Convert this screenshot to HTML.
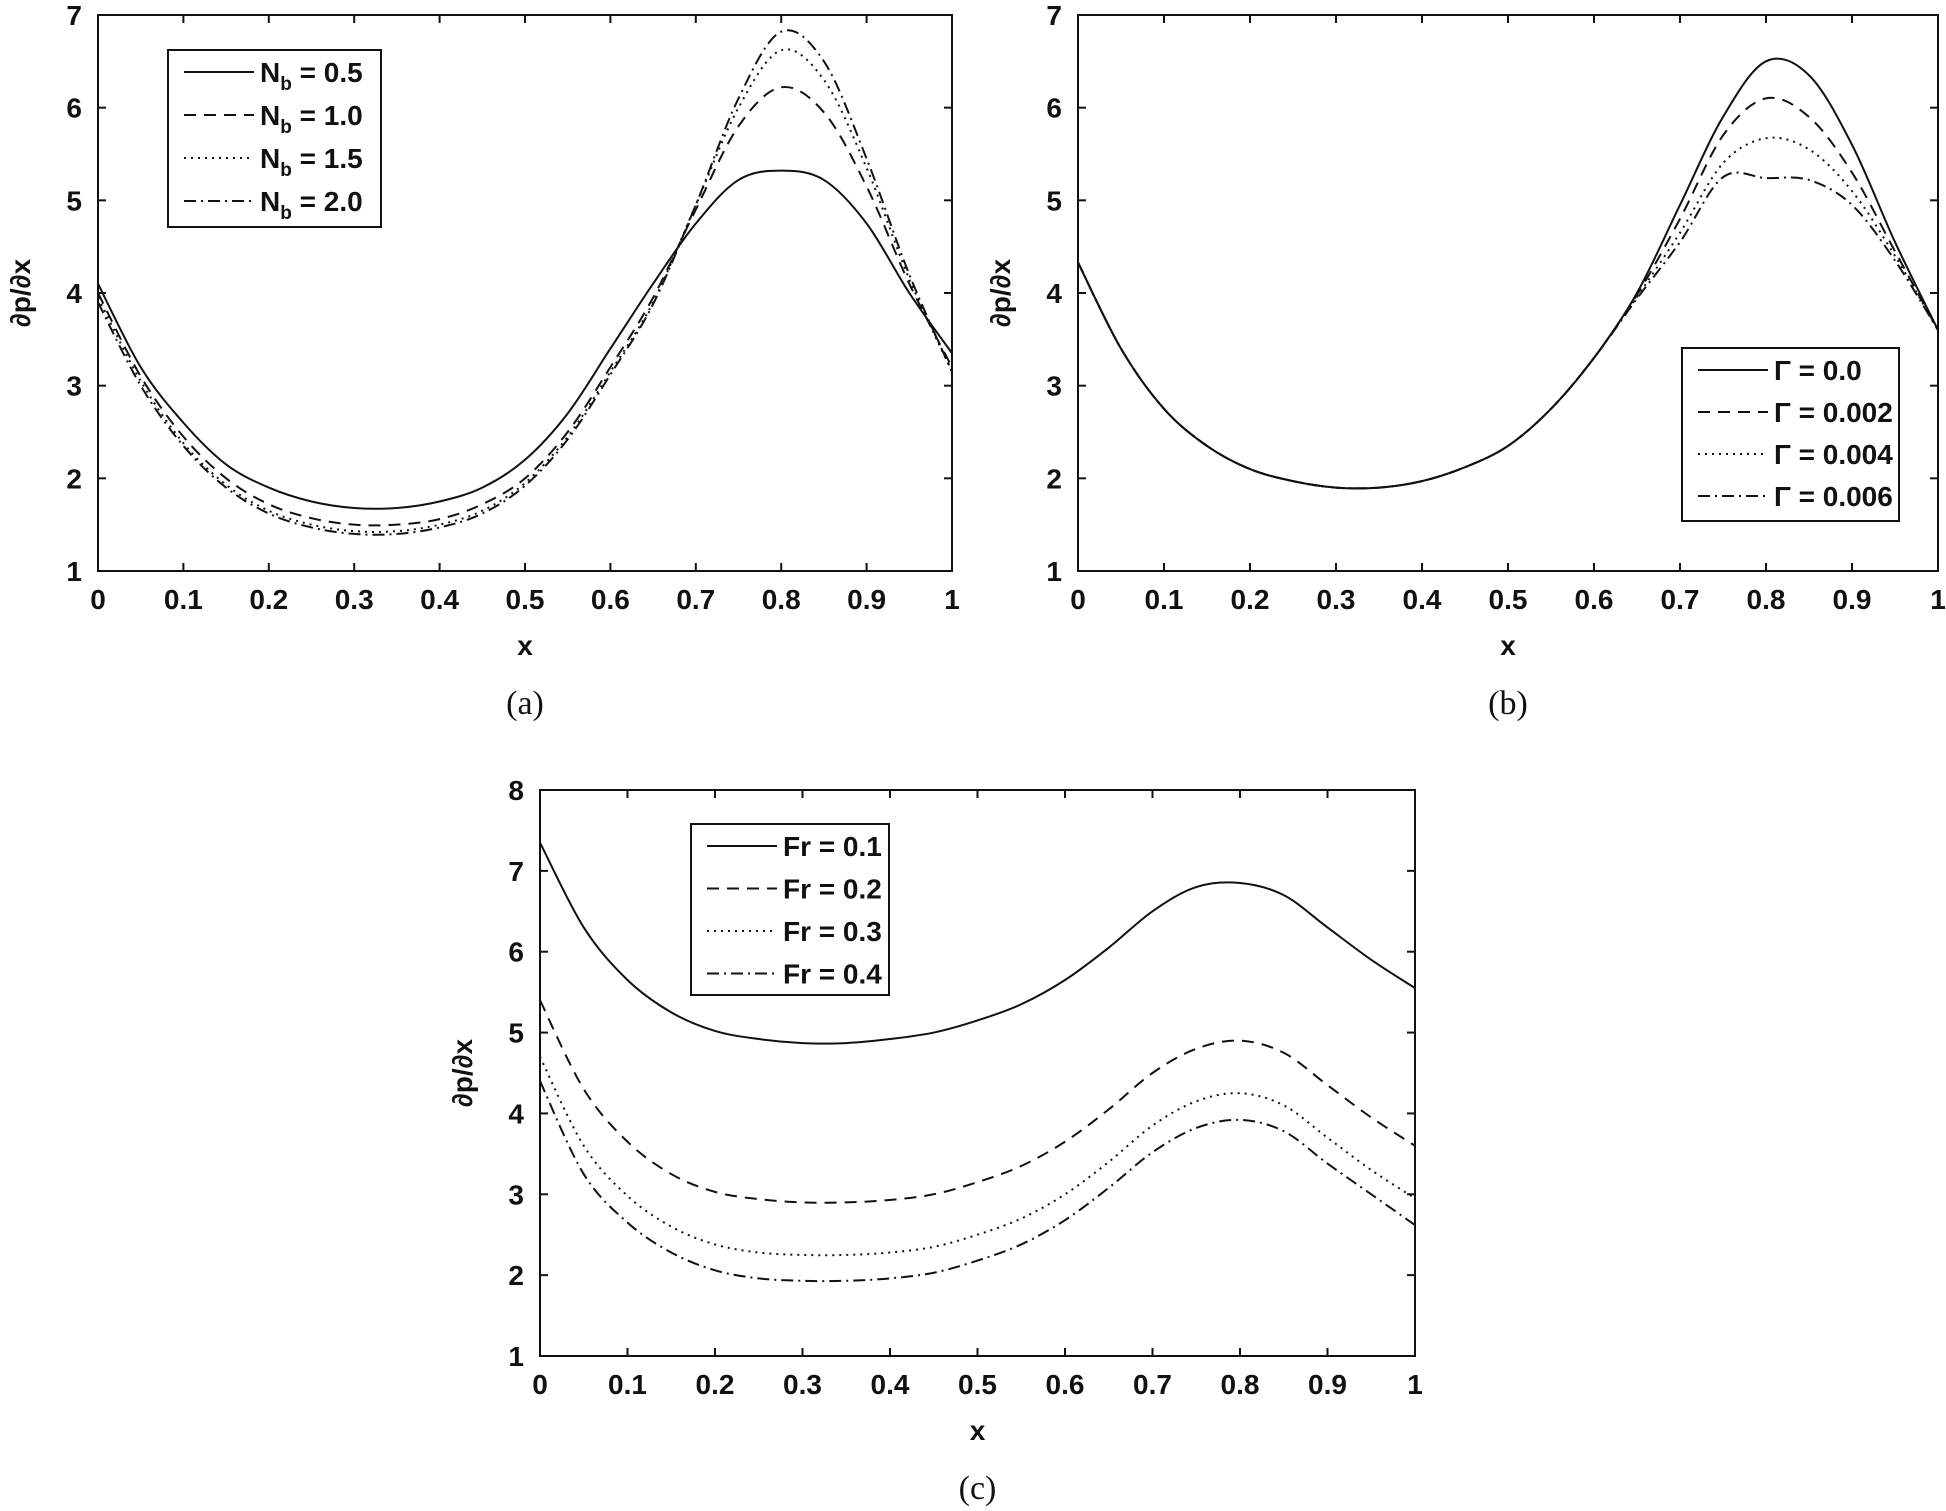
<!DOCTYPE html>
<html><head><meta charset="utf-8"><style>
body{margin:0;background:#fff;}
svg{display:block;font-family:"Liberation Sans",sans-serif;}
.tk{font-weight:bold;font-size:28px;fill:#111;}
.cap{font-family:"Liberation Serif",serif;font-size:34px;fill:#111;}
</style></head><body>
<svg id="fig" width="1946" height="1511" viewBox="0 0 1946 1511" xmlns="http://www.w3.org/2000/svg"></svg>
<script>
const xs=[0,0.05,0.1,0.15,0.2,0.25,0.3,0.35,0.4,0.45,0.5,0.55,0.6,0.65,0.7,0.75,0.8,0.85,0.9,0.95,1];
const aNb05=[4.1,3.2,2.6,2.15,1.9,1.75,1.68,1.68,1.75,1.9,2.2,2.7,3.4,4.1,4.75,5.22,5.32,5.22,4.75,4.0,3.35];
const aNb10=[4.0,3.1,2.45,2.0,1.72,1.57,1.5,1.5,1.56,1.72,2.0,2.5,3.2,3.95,4.9,5.8,6.22,5.95,5.15,4.1,3.2];
const aNb15=[3.95,3.05,2.38,1.93,1.65,1.5,1.43,1.43,1.5,1.65,1.95,2.45,3.15,3.9,4.95,6.0,6.62,6.3,5.35,4.15,3.15];
const aNb20=[3.9,3.0,2.35,1.9,1.62,1.47,1.4,1.4,1.47,1.62,1.92,2.42,3.12,3.88,4.95,6.1,6.82,6.5,5.45,4.2,3.15];
const bG0=[4.33,3.4,2.75,2.35,2.1,1.97,1.9,1.9,1.97,2.12,2.35,2.75,3.3,4.0,4.95,5.9,6.5,6.35,5.6,4.55,3.6];
const bG2=[4.33,3.4,2.75,2.35,2.1,1.97,1.9,1.9,1.97,2.12,2.35,2.75,3.3,3.98,4.8,5.7,6.1,5.9,5.3,4.45,3.6];
const bG4=[4.33,3.4,2.75,2.35,2.1,1.97,1.9,1.9,1.97,2.12,2.35,2.75,3.3,3.96,4.65,5.4,5.67,5.55,5.1,4.4,3.6];
const bG6=[4.33,3.4,2.75,2.35,2.1,1.97,1.9,1.9,1.97,2.12,2.35,2.75,3.3,3.94,4.55,5.25,5.24,5.22,4.95,4.35,3.6];
const cFr1=[7.35,6.3,5.65,5.25,5.02,4.92,4.87,4.87,4.92,5.0,5.15,5.35,5.65,6.05,6.5,6.8,6.85,6.7,6.3,5.9,5.55];
const cFr2=[5.4,4.3,3.65,3.25,3.03,2.94,2.9,2.9,2.93,3.0,3.15,3.35,3.65,4.05,4.5,4.8,4.9,4.75,4.35,3.95,3.6];
const cFr3=[4.7,3.6,2.98,2.6,2.38,2.28,2.25,2.25,2.28,2.35,2.5,2.7,3.0,3.4,3.85,4.15,4.25,4.1,3.7,3.3,2.95];
const cFr4=[4.4,3.25,2.65,2.28,2.06,1.96,1.93,1.93,1.96,2.03,2.18,2.38,2.68,3.08,3.52,3.82,3.92,3.78,3.38,3.0,2.62];
const xTicks=["0","0.1","0.2","0.3","0.4","0.5","0.6","0.7","0.8","0.9","1"];
const aLabels=["N_b = 0.5","N_b = 1.0","N_b = 1.5","N_b = 2.0"];
const bLabels=["Γ = 0.0","Γ = 0.002","Γ = 0.004","Γ = 0.006"];
const cLabels=["Fr = 0.1","Fr = 0.2","Fr = 0.3","Fr = 0.4"];
const dashes=["","12 8","2 5","12 5 2 5"];
const NS="http://www.w3.org/2000/svg";
const svg=document.getElementById('fig');
function mk(tag,at,parent,txt){const e=document.createElementNS(NS,tag);for(const k in at)e.setAttribute(k,at[k]);if(txt!==undefined)e.textContent=txt;(parent||svg).appendChild(e);return e;}
function smooth(p){let d="M"+p[0][0]+","+p[0][1];for(let i=0;i<p.length-1;i++){const p0=p[i-1]||p[i],p1=p[i],p2=p[i+1],p3=p[i+2]||p2;d+=" C"+(p1[0]+(p2[0]-p0[0])/6)+","+(p1[1]+(p2[1]-p0[1])/6)+" "+(p2[0]-(p3[0]-p1[0])/6)+","+(p2[1]-(p3[1]-p1[1])/6)+" "+p2[0]+","+p2[1];}return d;}
function panel(id,L,R,T,B,ymax,series,labels,leg,cap){
  const g=mk('g',{},svg);
  const X=v=>L+v*(R-L), Y=v=>B-(v-1)/(ymax-1)*(B-T);
  const fr=mk('rect',{x:L,y:T,width:R-L,height:B-T,fill:'none',stroke:'#111','stroke-width':2},g);
  
  xTicks.forEach((t,i)=>{const v=i/10,x=X(v);
    mk('line',{x1:x,y1:B,x2:x,y2:B-8,stroke:'#111','stroke-width':2},g);mk('line',{x1:x,y1:T,x2:x,y2:T+8,stroke:'#111','stroke-width':2},g);
    const tx=mk('text',{x:x,y:B+38,'text-anchor':'middle',class:'tk'},g,t);});
  for(let v=1;v<=ymax;v++){const y=Y(v);
    mk('line',{x1:L,y1:y,x2:L+8,y2:y,stroke:'#111','stroke-width':2},g);mk('line',{x1:R,y1:y,x2:R-8,y2:y,stroke:'#111','stroke-width':2},g);
    const ty=mk('text',{x:L-16,y:y+10,'text-anchor':'end',class:'tk'},g,String(v));}
  const xl=mk('text',{x:(L+R)/2,y:B+84,'text-anchor':'middle',class:'tk','font-size':'30'},g,'x');
  const yc=(T+B)/2,yx=L-68;
  const yl=mk('text',{x:yx,y:yc,'text-anchor':'middle',class:'tk','font-size':'31',transform:`rotate(-90 ${yx} ${yc})`},g,'∂p/∂x');
  const ct=mk('text',{x:(L+R)/2,y:B+143,'text-anchor':'middle',class:'cap'},g,cap);
  series.forEach((s,i)=>{const p=mk('path',{d:smooth(xs.map((x,j)=>[X(x),Y(s[j])])),fill:'none',stroke:'#111','stroke-width':2,'stroke-dasharray':dashes[i]},g);
    });
  const lg=mk('g',{},g);
  mk('rect',{x:leg.x,y:leg.y,width:leg.w,height:leg.h,fill:'#fff',stroke:'#111','stroke-width':2},lg);
  labels.forEach((lb,i)=>{const y=leg.y+22+i*leg.dy;
    mk('line',{x1:leg.x+16,y1:y,x2:leg.x+86,y2:y,stroke:'#111','stroke-width':2,'stroke-dasharray':dashes[i]},lg);
    const t=mk('text',{x:leg.x+92,y:y+10,class:'tk'},lg);
    if(lb.startsWith('N_b')){mk('tspan',{},t,'N');mk('tspan',{dy:8,'font-size':19},t,'b');mk('tspan',{dy:-8},t,lb.slice(3));}
    else t.textContent=lb;});
}
panel('a',98,952,15,571,7,[aNb05,aNb10,aNb15,aNb20],aLabels,{x:168,y:50,w:213,h:177,dy:43},'(a)');
panel('b',1078,1938,15,571,7,[bG0,bG2,bG4,bG6],bLabels,{x:1682,y:348,w:217,h:173,dy:42},'(b)');
panel('c',540,1415,790,1356,8,[cFr1,cFr2,cFr3,cFr4],cLabels,{x:691,y:824,w:198,h:171,dy:42.5},'(c)');
</script>
</body></html>
